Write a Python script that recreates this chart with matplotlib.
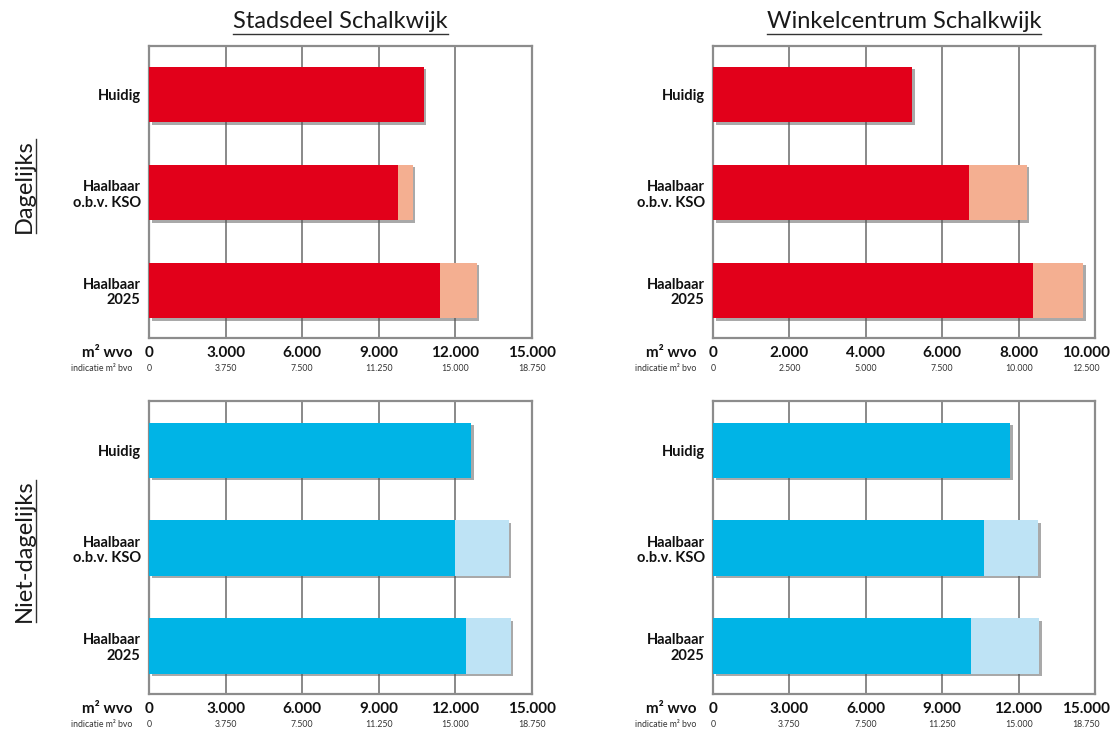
import matplotlib.pyplot as plt
import matplotlib.patheffects as pe
from matplotlib.lines import Line2D

plt.rcParams['font.family'] = ['Lato', 'DejaVu Sans']

categories = ['Huidig', 'Haalbaar\no.b.v. KSO', 'Haalbaar\n2025']

# dagelijks (m2 wvo)
sd_dag_base = [10760, 9760, 11400]
sd_dag_total = [10760, 10320, 12840]
wc_dag_base = [5210, 6710, 8370]
wc_dag_total = [5210, 8210, 9690]

# niet-dagelijks (m2 wvo)
sd_nd_base = [12630, 11990, 12430]
sd_nd_total = [12630, 14080, 14170]
wc_nd_base = [11670, 10630, 10130]
wc_nd_total = [11670, 12770, 12820]

ticks_15 = [0, 3000, 6000, 9000, 12000, 15000]
labels_15 = ['0', '3.000', '6.000', '9.000', '12.000', '15.000']
bvo_15 = ['0', '3.750', '7.500', '11.250', '15.000', '18.750']
ticks_10 = [0, 2000, 4000, 6000, 8000, 10000]
labels_10 = ['0', '2.000', '4.000', '6.000', '8.000', '10.000']
bvo_10 = ['0', '2.500', '5.000', '7.500', '10.000', '12.500']

red, salmon = '#e2001a', '#f4af91'
cyan, lightblue = '#00b4e6', '#bee3f5'

fig = plt.figure(figsize=(11.12, 7.31), dpi=100)

W, H = 1112, 731
def axes_px(left, top, right, bottom):
    return fig.add_axes([left / W, 1 - bottom / H, (right - left) / W, (bottom - top) / H])

ax_tl = axes_px(149, 45.7, 532, 338.3)
ax_tr = axes_px(713, 45.7, 1095, 338.3)
ax_bl = axes_px(149, 401.3, 532, 693.9)
ax_br = axes_px(713, 401.3, 1095, 693.9)

shadow = [pe.SimplePatchShadow(offset=(1.8, -1.8), shadow_rgbFace='#555555', alpha=0.5), pe.Normal()]

def panel(ax, base, total, c1, c2, ticks, labels, bvo, last_shift=0):
    y = range(len(categories))
    bars = ax.barh(y, total, height=0.566, color=c2, zorder=3)
    for b in bars:
        b.set_path_effects(shadow)
    ax.barh(y, base, height=0.566, color=c1, zorder=4)
    ax.set_ylim(2.49, -0.5)
    ax.set_xlim(ticks[0], ticks[-1])
    for t in ticks[1:-1]:
        ax.axvline(t, color='#808080', lw=1.3, zorder=1)
    ax.set_yticks(list(y))
    ax.set_yticklabels(categories, fontsize=10.5, fontweight='bold', color='#111111',
                       linespacing=1.15)
    ax.set_xticks([])
    ax.tick_params(axis='y', length=0, pad=6)
    for s in ax.spines.values():
        s.set_color('#8c8c8c')
        s.set_linewidth(1.6)
    for i, (t, lab, lab2) in enumerate(zip(ticks, labels, bvo)):
        dx = last_shift if i == len(ticks) - 1 else 0
        ax.annotate(lab, xy=(t, 0), xycoords=('data', 'axes fraction'),
                    xytext=(dx, -15), textcoords='offset pixels',
                    ha='center', va='center', fontsize=11, fontweight='bold', color='#111111')
        ax.annotate(lab2, xy=(t, 0), xycoords=('data', 'axes fraction'),
                    xytext=(dx, -30.5), textcoords='offset pixels',
                    ha='center', va='center', fontsize=6.3, color='#333333')
    ax.annotate('m² wvo', xy=(0, 0), xycoords='axes fraction',
                xytext=(-16, -15), textcoords='offset pixels',
                ha='right', va='center', fontsize=11, fontweight='bold', color='#111111')
    ax.annotate('indicatie m² bvo', xy=(0, 0), xycoords='axes fraction',
                xytext=(-17, -30.5), textcoords='offset pixels',
                ha='right', va='center', fontsize=6.3, color='#333333')

panel(ax_tl, sd_dag_base, sd_dag_total, red, salmon, ticks_15, labels_15, bvo_15)
panel(ax_tr, wc_dag_base, wc_dag_total, red, salmon, ticks_10, labels_10, bvo_10, last_shift=-9)
panel(ax_bl, sd_nd_base, sd_nd_total, cyan, lightblue, ticks_15, labels_15, bvo_15)
panel(ax_br, wc_nd_base, wc_nd_total, cyan, lightblue, ticks_15, labels_15, bvo_15, last_shift=-9)

titles = [
    fig.text(340.5 / W, 1 - 22 / H, 'Stadsdeel Schalkwijk', ha='center', va='center',
             fontsize=17, color='#1a1a1a'),
    fig.text(904 / W, 1 - 22 / H, 'Winkelcentrum Schalkwijk', ha='center', va='center',
             fontsize=17, color='#1a1a1a'),
]
rows = [
    fig.text(24 / W, 1 - 186 / H, 'Dagelijks', ha='center', va='center', rotation=90,
             fontsize=17, color='#1a1a1a'),
    fig.text(24 / W, 1 - 551 / H, 'Niet-dagelijks', ha='center', va='center', rotation=90,
             fontsize=17, color='#1a1a1a'),
]

# underline the titles
fig.canvas.draw()
r = fig.canvas.get_renderer()
for t in titles:
    bb = t.get_window_extent(r)
    fig.add_artist(Line2D([bb.x0 / W, bb.x1 / W], [(bb.y0 - 1) / H] * 2,
                          transform=fig.transFigure, color='#333333', lw=1))
for t in rows:
    bb = t.get_window_extent(r)
    fig.add_artist(Line2D([(bb.x1 + 1) / W] * 2, [bb.y0 / H, bb.y1 / H],
                          transform=fig.transFigure, color='#333333', lw=1))

fig.savefig('out.png', dpi=100)
